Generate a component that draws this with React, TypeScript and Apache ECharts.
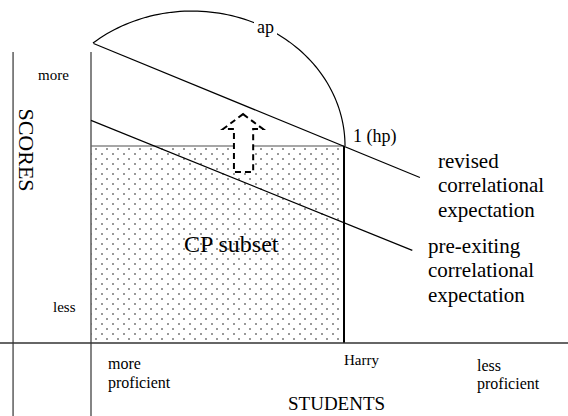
import React, { useEffect, useRef } from "react";
import * as echarts from "echarts";

// Conceptual units: x 0 = "more proficient" edge, x 1 = Harry;
// y 0 = score baseline, y 1 = Harry's score (hp).
const preExisting = [[0, 1.13], [1.27, 0.47]];
const revised = [[0.01, 1.52], [1.3, 0.84]];
const cpSubset = [[0, 0, 1, 1]];
const arrowOutline = [
  [0.601, 1.162],
  [0.68, 1.086],
  [0.641, 1.086],
  [0.641, 0.868],
  [0.565, 0.868],
  [0.565, 1.086],
  [0.522, 1.086],
];
const arcCenter = [0.399, 1];
const arcRadii = [0.605, 0.685];
const arcDegrees = [130.3, 0];
const innerAxis = [[0, -0.371], [0, 1.477]];
const outerAxis = [[-0.308, -0.371], [-0.308, 1.477]];
const baseAxis = [[-0.37, 0], [1.9, 0]];

const FONT = "Liberation Serif";

function makePattern() {
  const c = document.createElement("canvas");
  c.width = 11;
  c.height = 10;
  const ctx = c.getContext("2d")!;
  ctx.fillStyle = "#999";
  ctx.fillRect(2, 3, 2, 2);
  ctx.fillRect(7, 8, 2, 2);
  return { image: c, repeat: "repeat" as const };
}

function segmentSeries(seg: number[][], color: string, width: number, z = 3) {
  return {
    type: "custom",
    z,
    silent: true,
    data: [[seg[0][0], seg[0][1], seg[1][0], seg[1][1]]],
    renderItem: (_p: any, api: any) => {
      const a = api.coord([api.value(0), api.value(1)]);
      const b = api.coord([api.value(2), api.value(3)]);
      return {
        type: "line",
        shape: { x1: a[0], y1: a[1], x2: b[0], y2: b[1] },
        style: { stroke: color, lineWidth: width },
      };
    },
  };
}

function txt(text: string, x: number, y: number, size: number, extra: any = {}) {
  return {
    type: "text",
    x,
    y,
    z: 100,
    silent: true,
    style: {
      text,
      fontSize: size,
      fontFamily: FONT,
      fill: "#000",
      textVerticalAlign: "middle",
      ...extra,
    },
  };
}

export default function App() {
  const ref = useRef<HTMLDivElement>(null);
  useEffect(() => {
    if (!ref.current) return;
    const chart = echarts.init(ref.current, null, { renderer: "svg" });
    const pattern = makePattern();
    chart.setOption({
      animation: false,
      backgroundColor: "#fff",
      grid: { left: 91, top: 146, width: 253, height: 197 },
      xAxis: { type: "value", min: 0, max: 1, show: false },
      yAxis: { type: "value", min: 0, max: 1, show: false },
      series: [
        {
          type: "custom",
          z: 1,
          silent: true,
          data: cpSubset,
          renderItem: (_p: any, api: any) => {
            const p0 = api.coord([api.value(0), api.value(1)]);
            const p1 = api.coord([api.value(2), api.value(3)]);
            return {
              type: "group",
              children: [
                {
                  type: "rect",
                  shape: { x: p0[0], y: p1[1], width: p1[0] - p0[0], height: p0[1] - p1[1] },
                  style: { fill: pattern },
                },
                {
                  type: "line",
                  shape: { x1: p0[0], y1: p1[1], x2: p1[0], y2: p1[1] },
                  style: { stroke: "#888", lineWidth: 1.5 },
                },
                {
                  type: "line",
                  shape: { x1: p1[0], y1: p1[1], x2: p1[0], y2: p0[1] },
                  style: { stroke: "#000", lineWidth: 2 },
                },
              ],
            };
          },
        },
        segmentSeries(innerAxis, "#666", 1.6, 2),
        segmentSeries(outerAxis, "#666", 1.6, 2),
        segmentSeries(baseAxis, "#333", 1.3, 2),
        segmentSeries(preExisting, "#000", 1.2),
        segmentSeries(revised, "#000", 1.2),
        {
          type: "custom",
          z: 3,
          silent: true,
          data: [0],
          renderItem: (_p: any, api: any) => {
            const c = api.coord(arcCenter);
            const r = api.size(arcRadii);
            const pts: number[][] = [];
            const steps = 80;
            for (let i = 0; i <= steps; i++) {
              const d = arcDegrees[0] + ((arcDegrees[1] - arcDegrees[0]) * i) / steps;
              const a = (d * Math.PI) / 180;
              pts.push([c[0] + r[0] * Math.cos(a), c[1] - r[1] * Math.sin(a)]);
            }
            return {
              type: "polyline",
              shape: { points: pts },
              style: { fill: "none", stroke: "#000", lineWidth: 1.2 },
            };
          },
        },
        {
          type: "custom",
          z: 4,
          silent: true,
          data: [0],
          renderItem: (_p: any, api: any) => {
            const pts = arrowOutline.map((p) => api.coord(p));
            return {
              type: "polygon",
              shape: { points: pts },
              style: { fill: "#fff", stroke: "#000", lineWidth: 2, lineDash: [6, 4] },
            };
          },
        },
      ],
      graphic: [
        txt("ap", 254, 27, 18, { backgroundColor: "#fff", padding: [1, 3] }),
        txt("more", 38, 75, 15),
        txt("less", 53, 307, 15),
        { ...txt("SCORES", 26.5, 150, 22, { textAlign: "center" }), rotation: -Math.PI / 2 },
        txt("1 (hp)", 353, 136, 18),
        txt("revised\ncorrelational\nexpectation", 438, 185, 21, { lineHeight: 24.5 }),
        txt("pre-exiting\ncorrelational\nexpectation", 428, 270, 21, { lineHeight: 24.5 }),
        txt("CP subset", 184, 244, 24),
        txt("more\nproficient", 108, 372.5, 16, { lineHeight: 19 }),
        txt("Harry", 344, 360, 15),
        txt("less\nproficient", 477, 374, 16, { lineHeight: 18 }),
        txt("STUDENTS", 288, 403.5, 19),
      ],
    });
    return () => chart.dispose();
  }, []);
  return (
    <div
      ref={ref}
      style={{ position: "fixed", left: 0, top: 0, width: 568, height: 416, background: "#fff" }}
    />
  );
}
